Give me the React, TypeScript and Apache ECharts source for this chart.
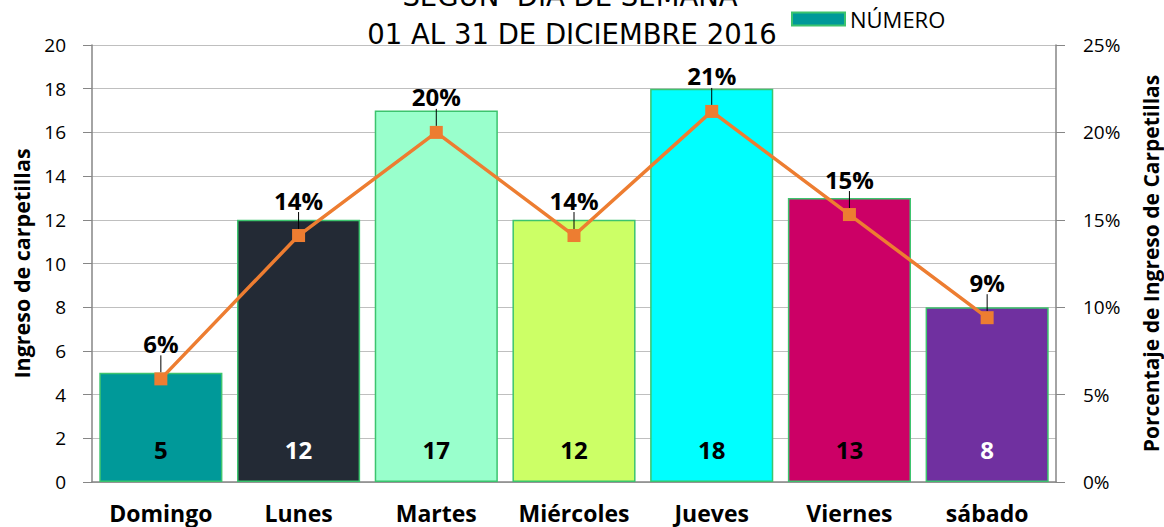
import React, { useEffect, useRef } from "react";
import * as echarts from "echarts";

const categories = ["Domingo", "Lunes", "Martes", "Miércoles", "Jueves", "Viernes", "sábado"];
const counts = [5, 12, 17, 12, 18, 13, 8];
const percents = [5.9, 14.1, 20.0, 14.1, 21.2, 15.3, 9.4];
const barColors = ["#009999", "#232A35", "#99FFCC", "#CCFF66", "#00FFFF", "#CC0066", "#7030A0"];
const barLabelColors = ["#000", "#fff", "#000", "#000", "#000", "#000", "#fff"];
const leftTicks = { min: 0, max: 20, interval: 2 };
const rightTicks = { min: 0, max: 25, interval: 5 };
const titleLines = ["SEGÚN  DÍA DE SEMANA", "01 AL 31 DE DICIEMBRE 2016"];

const SANS = "'Open Sans', sans-serif";
const TITLE_FONT = "normal 27.5px 'DejaVu Sans', sans-serif";

export default function App() {
  const ref = useRef<HTMLDivElement>(null);
  useEffect(() => {
    const chart = echarts.init(ref.current!, null, { renderer: "svg" });
    chart.setOption({
      animation: false,
      graphic: [
        {
          type: "text",
          x: 570,
          y: -4,
          style: { text: titleLines[0], font: TITLE_FONT, fill: "#000", align: "center", verticalAlign: "middle", textAlign: "center", textVerticalAlign: "middle" },
        },
        {
          type: "text",
          x: 572,
          y: 34,
          style: { text: titleLines[1], font: TITLE_FONT, fill: "#000", align: "center", verticalAlign: "middle", textAlign: "center", textVerticalAlign: "middle" },
        },
      ],
      legend: {
        data: ["NÚMERO"],
        left: 786,
        top: 3,
        icon: "rect",
        itemWidth: 53,
        itemHeight: 13,
        itemGap: 7,
        textStyle: { fontFamily: SANS, fontSize: 22, color: "#000" },
      },
      grid: { left: 92, right: 108, top: 45, bottom: 45, outerBoundsMode: "none", containLabel: false },
      xAxis: {
        type: "category",
        data: categories,
        axisTick: { show: false },
        axisLine: { lineStyle: { color: "#868686", width: 1.5 } },
        axisLabel: { fontFamily: SANS, fontSize: 23, fontWeight: "bold", color: "#000", margin: 19, interval: 0 },
      },
      yAxis: [
        {
          type: "value",
          ...leftTicks,
          name: "Ingreso de carpetillas",
          nameLocation: "middle",
          nameGap: 60,
          nameRotate: 90,
          nameTextStyle: { fontFamily: SANS, fontSize: 21.5, fontWeight: "bold", color: "#000" },
          axisLine: { show: true, lineStyle: { color: "#868686", width: 1.5 } },
          axisTick: { show: true, inside: false, length: 9, lineStyle: { color: "#868686" } },
          splitLine: { lineStyle: { color: "#BFBFBF", width: 1.2 } },
          axisLabel: { fontFamily: SANS, fontSize: 19, color: "#000", margin: 26 },
        },
        {
          type: "value",
          ...rightTicks,
          position: "right",
          name: "Porcentaje de Ingreso de Carpetillas",
          nameLocation: "middle",
          nameGap: 84,
          nameRotate: 90,
          nameTextStyle: { fontFamily: SANS, fontSize: 21, fontWeight: "bold", color: "#000" },
          axisLine: { show: true, lineStyle: { color: "#868686", width: 1.5 } },
          axisTick: { show: true, inside: false, length: 9, lineStyle: { color: "#868686" } },
          splitLine: { show: false },
          axisLabel: { fontFamily: SANS, fontSize: 19, color: "#000", margin: 27, formatter: "{value}%" },
        },
      ],
      series: [
        {
          name: "NÚMERO",
          type: "bar",
          barCategoryGap: "10.6%",
          itemStyle: { color: barColors[0], borderColor: "#3CC46E", borderWidth: 1.5 },
          data: counts.map((v, i) => ({
            value: v,
            itemStyle: { color: barColors[i] },
            label: { color: barLabelColors[i] },
          })),
          label: {
            show: true,
            position: "insideBottom",
            distance: 21,
            fontFamily: SANS,
            fontSize: 24,
            fontWeight: "bold",
          },
        },
        {
          name: "Porcentaje",
          type: "line",
          yAxisIndex: 1,
          data: percents,
          lineStyle: { color: "#ED7D31", width: 3.5 },
          itemStyle: { color: "#ED7D31" },
          symbol: "rect",
          symbolSize: 13,
          label: {
            show: true,
            position: "top",
            distance: 4,
            fontFamily: SANS,
            fontSize: 24,
            fontWeight: "bold",
            color: "#000",
            formatter: (p: any) => Math.round(p.value) + "%",
          },
          labelLayout: { dy: -13 },
          labelLine: { show: true, lineStyle: { color: "#000", width: 1 } },
        },
      ],
    });
    return () => chart.dispose();
  }, []);
  return <div ref={ref} style={{ position: "fixed", left: 0, top: 0, width: 1164, height: 527, background: "#fff" }} />;
}
